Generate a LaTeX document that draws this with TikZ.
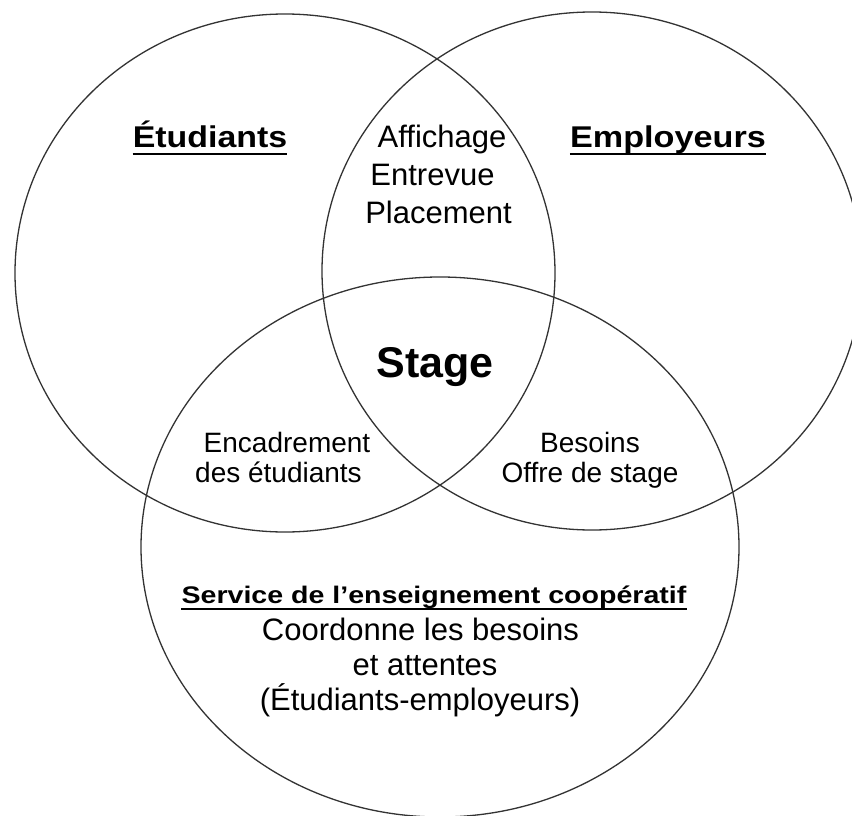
\documentclass[tikz,border=0pt]{standalone}
\usepackage{fontspec}
\setmainfont{Liberation Sans}
\newcommand\hstretch[2]{\scalebox{#1}[1]{#2}}
\begin{document}
\begin{tikzpicture}[x=1pt,y=-1pt]
\tikzset{
  venn/.style={draw=black!80, line width=1.3pt},
  lbl/.style={inner sep=0pt, anchor=base, text=black, font=\fontsize{31}{36}\selectfont},
  lblsm/.style={inner sep=0pt, anchor=base, text=black, font=\fontsize{28}{33}\selectfont},
  ttl/.style={inner sep=0pt, anchor=base, text=black, font=\bfseries\fontsize{30}{36}\selectfont},
  svc/.style={inner sep=0pt, anchor=base, text=black, font=\bfseries\fontsize{24}{28}\selectfont},
  big/.style={inner sep=0pt, anchor=base, text=black, font=\bfseries\fontsize{43}{50}\selectfont},
  ul/.style={draw=black, line width=2.8pt},
  ulsm/.style={draw=black, line width=2pt}
}
\useasboundingbox (0,0) rectangle (852,816);
\fill[white] (0,0) rectangle (852,816);
\begin{scope}
\clip (0,0) rectangle (852,816);
\draw[venn] (285,273) ellipse [x radius=270pt, y radius=259pt];
\draw[venn] (592,271) ellipse [x radius=270pt, y radius=259pt];
\draw[venn] (440,547) ellipse [x radius=299pt, y radius=270pt];
\end{scope}
% titles
\node[ttl] (etu) at (210,147) {\hstretch{1.13}{Étudiants}};
\draw[ul] ([yshift=-7pt]etu.base west) -- ([yshift=-7pt]etu.base east);
\node[ttl] (emp) at (668,147) {\hstretch{1.14}{Employeurs}};
\draw[ul] ([yshift=-7pt]emp.base west) -- ([yshift=-7pt]emp.base east);
% top lens
\node[lbl] (aff) at (442,147) {Affichage};
\node[lbl] (ent) at (432.5,185) {Entrevue};
\node[lbl] (pla) at (438.5,223) {Placement};
% centre
\node[big] (stg) at (435,377) {Stage};
% side lenses
\node[lblsm] (enc) at (287,452) {Encadrement};
\node[lblsm] (det) at (278.5,482) {des étudiants};
\node[lblsm] (bes) at (590,452) {Besoins};
\node[lblsm] (off) at (590,482) {Offre de stage};
% bottom circle
\node[svc] (svc) at (434,603) {\hstretch{1.19}{Service de l’enseignement coopératif}};
\draw[ulsm] ([yshift=-5.5pt]svc.base west) -- ([yshift=-5.5pt]svc.base east);
\node[lbl] (coo) at (420.5,640) {Coordonne les besoins};
\node[lbl] (att) at (425,675) {et attentes};
\node[lbl] (ee) at (420,710) {(Étudiants-employeurs)};
\end{tikzpicture}
\end{document}
